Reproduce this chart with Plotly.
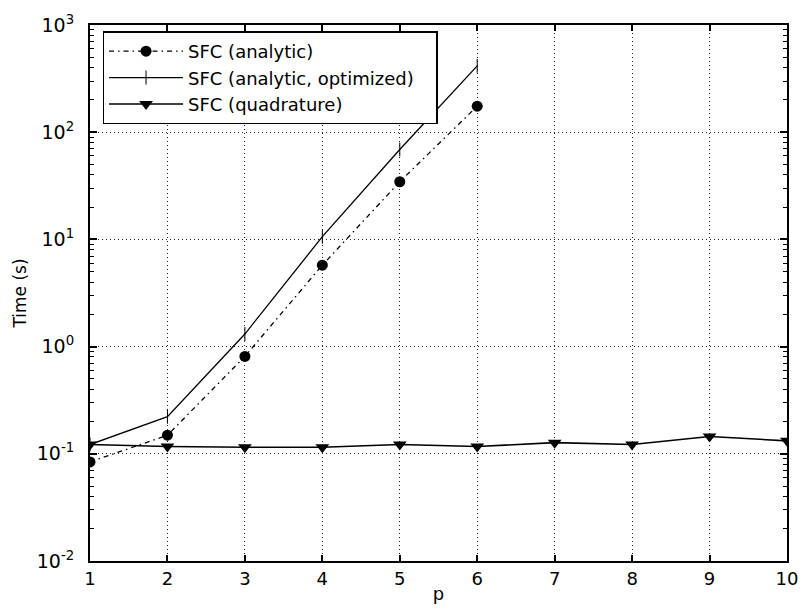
import plotly.graph_objects as go

p_analytic = [1, 2, 3, 4, 5, 6]
t_analytic = [0.084, 0.149, 0.81, 5.75, 34.5, 175]
p_optimized = [1, 2, 3, 4, 5, 6]
t_optimized = [0.122, 0.222, 1.31, 10.6, 69, 416]
p_quad = [1, 2, 3, 4, 5, 6, 7, 8, 9, 10]
t_quad = [0.122, 0.117, 0.115, 0.115, 0.122, 0.117, 0.127, 0.122, 0.145, 0.132]

y_tickvals = [0.01, 0.1, 1, 10, 100, 1000]
y_ticktext = ["10<sup>-2</sup>", "10<sup>-1</sup>", "10<sup>0</sup>",
              "10<sup>1</sup>", "10<sup>2</sup>", "10<sup>3</sup>"]
y_minor = [k * 10.0 ** e for e in range(-2, 3) for k in range(2, 10)]
x_tickvals = [1, 2, 3, 4, 5, 6, 7, 8, 9, 10]
x_range = [1, 10]

FONT = "DejaVu Sans, sans-serif"

fig = go.Figure()
fig.add_trace(go.Scatter(
    x=p_analytic, y=t_analytic, name="SFC (analytic)", mode="lines+markers",
    line=dict(color="black", width=1.3, dash="5px,4px,1.5px,4px"),
    marker=dict(symbol="circle", size=11, color="black"),
))
fig.add_trace(go.Scatter(
    x=p_optimized, y=t_optimized, name="SFC (analytic, optimized)\u00a0\u00a0\u00a0",
    mode="lines+markers",
    line=dict(color="black", width=1.3),
    marker=dict(symbol="line-ns", size=10, color="black",
                line=dict(color="black", width=1)),
))
fig.add_trace(go.Scatter(
    x=p_quad, y=t_quad, name="SFC (quadrature)", mode="lines+markers",
    line=dict(color="black", width=1.6),
    marker=dict(symbol="triangle-down", size=12, color="black"),
))

fig.update_layout(
    width=810, height=613,
    margin=dict(l=90, r=16, t=20, b=47),
    paper_bgcolor="white", plot_bgcolor="white",
    font=dict(family=FONT, size=18, color="black"),
    showlegend=True,
    legend=dict(
        x=0.018, y=0.988, xanchor="left", yanchor="top",
        bordercolor="black", borderwidth=1.5, bgcolor="white",
        font=dict(family=FONT, size=18, color="black"),
        itemwidth=74,
    ),
    xaxis=dict(
        range=x_range, tickmode="array", tickvals=x_tickvals, ticks="inside",
        ticklen=6, tickwidth=1.5, tickcolor="black", showline=True,
        linecolor="black", linewidth=2, mirror="allticks", showgrid=True,
        gridcolor="#222", griddash="1px,3px", gridwidth=1, zeroline=False,
        title=dict(text="p", font=dict(size=18), standoff=0),
        tickfont=dict(size=18),
    ),
    yaxis=dict(
        type="log", range=[-2, 3], tickmode="array", tickvals=y_tickvals,
        ticktext=y_ticktext, ticks="inside", ticklen=7, tickwidth=1.5,
        tickcolor="black", showline=True, linecolor="black", linewidth=2,
        mirror="allticks", showgrid=True, gridcolor="#222",
        griddash="1px,3px", gridwidth=1, zeroline=False,
        minor=dict(tickmode="array", tickvals=y_minor, ticks="inside",
                   ticklen=4, tickwidth=1, tickcolor="black",
                   showgrid=False),
        title=dict(text="Time (s)", font=dict(size=17), standoff=6),
        tickfont=dict(size=19),
        ticklabelstandoff=10,
    ),
)

fig.write_html("out.html")
